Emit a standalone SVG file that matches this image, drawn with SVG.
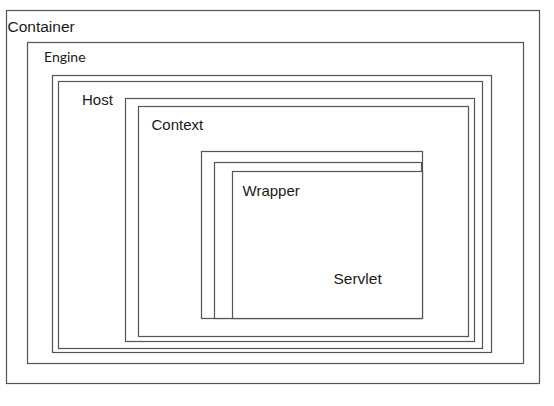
<svg xmlns="http://www.w3.org/2000/svg" width="554" height="406" viewBox="0 0 554 406">
<style>
rect { fill: #ffffff; stroke: #555555; stroke-width: 1.2; }
text { font-family: "Liberation Sans", Arial, sans-serif; font-size: 15px; fill: #1a1a1a; }
.cal { font-family: Lato, "Open Sans", sans-serif; font-size: 14px; }
</style>
<rect x="0" y="0" width="554" height="406" style="fill:#ffffff;stroke:none"/>
<g id="container">
  <rect x="6.5" y="10.5" width="533" height="373"/>
  <text x="7.5" y="32" style="font-size:15.5px">Container</text>
</g>
<g id="engine">
  <rect x="27.5" y="42.5" width="496" height="321"/>
  <text class="cal" x="44" y="61.5">Engine</text>
</g>
<g id="host">
  <rect x="52.5" y="75.5" width="439" height="277"/>
  <rect x="58.5" y="81.5" width="424" height="267"/>
  <text x="82" y="105">Host</text>
</g>
<g id="context">
  <rect x="125.5" y="98.5" width="349" height="243"/>
  <rect x="138.5" y="106.5" width="330" height="230"/>
  <text x="151.5" y="130">Context</text>
</g>
<g id="wrapper">
  <rect x="201.5" y="151.5" width="221" height="167"/>
  <rect x="214.5" y="162.5" width="207" height="156"/>
  <rect x="232.5" y="171.5" width="190" height="147"/>
  <text x="242.5" y="196">Wrapper</text>
</g>
<g id="servlet">
  <text x="333.5" y="284" style="font-size:15.5px">Servlet</text>
</g>
<g id="connectors"/>
</svg>
